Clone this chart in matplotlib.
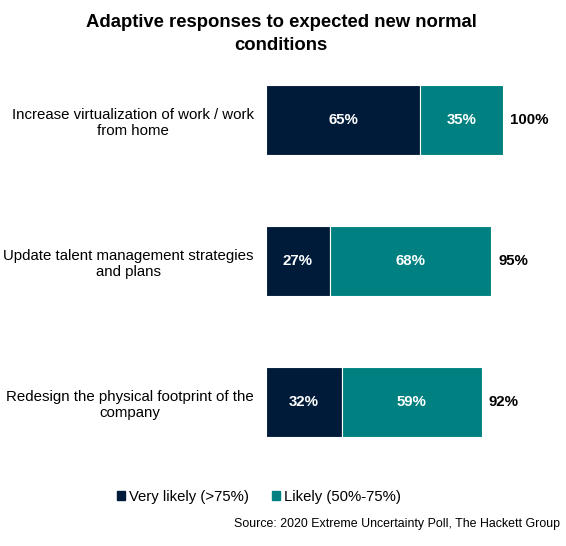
import matplotlib
matplotlib.use("Agg")
import matplotlib.pyplot as plt
from matplotlib.patches import Patch

plt.rcParams['font.family'] = ['Liberation Sans', 'DejaVu Sans']

categories = ["Increase virtualization of work / work\nfrom home",
              "Update talent management strategies\nand plans",
              "Redesign the physical footprint of the\ncompany"]
very_likely = [65, 27, 32]
likely = [35, 68, 59]
totals = [100, 95, 92]
series_names = ["Very likely (>75%)", "Likely (50%-75%)"]
c_dark = "#001b3a"
c_teal = "#008080"

W, H = 566, 546
fig = plt.figure(figsize=(W/100, H/100), dpi=100)
ax_left, ax_right = 266, 566
ax_top, ax_bot = 49.5, 472.5
ax = fig.add_axes([ax_left/W, 1-ax_bot/H, (ax_right-ax_left)/W, (ax_bot-ax_top)/H])
px_per_unit = 2.37
ax.set_xlim(0, (ax_right-ax_left)/px_per_unit)
ax.set_ylim(2.5, -0.5)

y = list(range(len(categories)))
h = 0.49
ax.barh(y, very_likely, height=h, color=c_dark, edgecolor='white', linewidth=0.8)
ax.barh(y, likely, left=very_likely, height=h, color=c_teal, edgecolor='white', linewidth=0.8)

for i in y:
    ax.text(very_likely[i]/2, i, f"{very_likely[i]}%", ha='center', va='center',
            color='white', fontsize=10.8, fontweight='bold')
    ax.text(very_likely[i]+likely[i]/2, i, f"{likely[i]}%", ha='center', va='center',
            color='white', fontsize=10.8, fontweight='bold')
    ax.text(very_likely[i]+likely[i]+3, i, f"{totals[i]}%", ha='left', va='center',
            color='black', fontsize=10.8, fontweight='bold')

ax.set_yticks(y)
ax.set_yticklabels(categories, fontsize=10.8, multialignment='center')
ax.tick_params(axis='y', length=0, pad=9)
ax.set_xticks([])
for s in ax.spines.values():
    s.set_visible(False)

fig.text(281/W, 1-34/H, "Adaptive responses to expected new normal\nconditions",
         ha='center', va='center', fontsize=13.3, fontweight='bold', linespacing=1.4)

handles = [Patch(color=c_dark), Patch(color=c_teal)]
fig.legend(handles, series_names, loc='center', bbox_to_anchor=(259/W, 1-497/H),
           ncol=2, frameon=False, fontsize=10.7, handlelength=0.55, handleheight=0.55,
           handletextpad=0.3, columnspacing=1.5)
fig.text(560/W, 1-524/H, "Source: 2020 Extreme Uncertainty Poll, The Hackett Group",
         ha='right', va='center', fontsize=8.9)

fig.savefig("out.png", dpi=100)
